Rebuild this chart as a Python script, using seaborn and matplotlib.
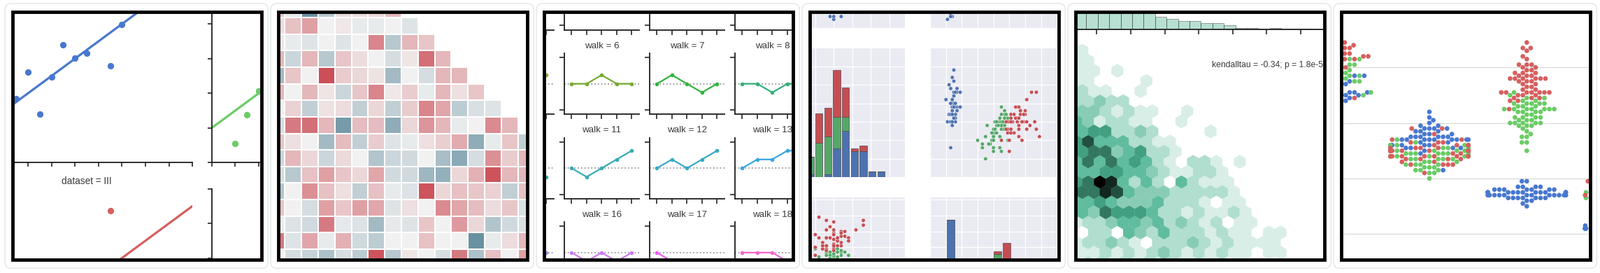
import colorsys
import warnings
import numpy as np
import pandas as pd
import matplotlib
matplotlib.use("Agg")
import matplotlib.pyplot as plt
import matplotlib.colors as mcolors
import matplotlib.transforms as mtransforms
from matplotlib.path import Path
from matplotlib.patches import PathPatch, Rectangle, FancyBboxPatch
import seaborn as sns

warnings.filterwarnings("ignore")

# ============================ DATA ============================
# --- panel 1: Anscombe's quartet ---
ans_x = [10, 8, 13, 9, 11, 14, 6, 4, 12, 7, 5]
ans_x4 = [8, 8, 8, 8, 8, 8, 8, 19, 8, 8, 8]
ans_y1 = [8.04, 6.95, 7.58, 8.81, 8.33, 9.96, 7.24, 4.26, 10.84, 4.82, 5.68]
ans_y2 = [9.14, 8.14, 8.74, 8.77, 9.26, 8.10, 6.13, 3.10, 9.13, 7.26, 4.74]
ans_y3 = [7.46, 6.77, 12.74, 7.11, 7.81, 8.84, 6.08, 5.39, 8.15, 6.42, 5.73]
ans_y4 = [6.58, 5.76, 7.71, 8.84, 8.47, 7.04, 5.25, 12.50, 5.56, 7.91, 6.89]
ans_names = ["I", "II", "III", "IV"]

# --- panel 2: visible crop of the lower-triangle correlation matrix ---
corr_rows = [
    [0.08, -0.02, -0.27, -0.12, 0.04, 0.04, 0.05, 0.11],
    [0.04, 0.09, 0.15, 0.0, 0.02, -0.02, -0.02, 0.0, -0.04],
    [0.02, -0.02, -0.04, 0.0, -0.04, 0.0, 0.2, -0.12, 0.11, 0.08],
    [0.11, -0.08, 0.11, -0.12, 0.08, 0.04, 0.0, -0.06, 0.025, 0.24, 0.11],
    [-0.16, 0.08, 0.0, 0.3, 0.07, 0.05, 0.03, -0.16, 0.0, -0.06, 0.11, 0.11],
    [0.11, 0.0, 0.11, 0.025, -0.08, 0.08, 0.2, 0.02, 0.07, -0.02, 0.11, 0.035, 0.08],
    [0.0, 0.06, -0.1, 0.03, 0.04, -0.1, 0.05, -0.1, 0.07, 0.2, 0.14, -0.11, -0.05, -0.04],
    [-0.06, 0.22, 0.24, 0.11, -0.25, 0.1, 0.1, -0.2, 0.05, 0.17, 0.11, -0.02, 0.0, 0.19, 0.11],
    [0.08, 0.035, 0.0, -0.16, 0.1, -0.1, 0.07, -0.04, -0.02, 0.035, 0.065, 0.13, -0.2, -0.02, 0.08, -0.1],
    [-0.08, 0.11, 0.05, -0.08, 0.045, 0.0, -0.13, -0.08, -0.07, 0.0, -0.15, -0.21, -0.06, 0.18, 0.07, 0.11],
    [-0.06, -0.12, 0.09, 0.15, 0.08, 0.05, 0.14, -0.07, -0.07, -0.17, -0.19, 0.05, 0.12, 0.29, 0.11, 0.11],
    [-0.13, 0.0, 0.18, 0.09, 0.035, -0.1, 0.09, -0.02, -0.045, 0.29, 0.05, 0.09, 0.08, 0.06, -0.1, 0.09],
    [0.08, 0.0, -0.06, 0.15, 0.08, 0.15, 0.14, -0.04, 0.035, 0.0, 0.19, 0.14, 0.1, 0.04, 0.08, -0.05],
    [-0.02, -0.045, -0.07, 0.22, -0.025, -0.045, -0.16, -0.025, -0.04, 0.08, 0.0, 0.16, 0.05, -0.13, -0.07, -0.055],
    [0.22, -0.04, 0.14, -0.02, 0.12, -0.07, -0.11, 0.0, 0.0, 0.09, 0.0, 0.0, -0.28, -0.02, 0.04, 0.11],
    [0.0, -0.06, -0.09, -0.14, -0.06, -0.11, 0.29, -0.12, 0.025, 0.0, -0.055, 0.22, -0.14, 0.09, 0.0, 0.15],
]

# --- panel 3: random walks (position per step) ---
walk_steps = [0, 1, 2, 3, 4]
walk_positions = [
    [0, 1, 1, 2, 1], [0, 0, 1, 1, 0], [0, 1, 1, 0, 1], [0, -1, 0, 0, 1], [0, 1, 0, 1, 1],
    [0, 1, 2, 1, 1], [0, 0, 1, 0, 0], [0, 1, 0, -1, 0], [0, 0, -1, 0, 0], [0, -1, -1, -2, -1],
    [0, 0, 1, 0, -1], [0, -1, 0, 1, 2], [0, 1, 0, 1, 2], [0, 1, 1, 2, 2], [0, 0, -1, -1, 0],
    [0, -1, -1, 0, 0], [0, -1, 0, -1, 0], [0, -1, -2, -2, -1], [0, 0, 0, -1, 0], [0, 1, 0, 0, -1],
]

# --- panels 4 & 6: iris ---
setosa_sl = [5.1,4.9,4.7,4.6,5.0,5.4,4.6,5.0,4.4,4.9,5.4,4.8,4.8,4.3,5.8,5.7,5.4,5.1,5.7,5.1,5.4,5.1,4.6,5.1,4.8,
             5.0,5.0,5.2,5.2,4.7,4.8,5.4,5.2,5.5,4.9,5.0,5.5,4.9,4.4,5.1,5.0,4.5,4.4,5.0,5.1,4.8,5.1,4.6,5.3,5.0]
setosa_sw = [3.5,3.0,3.2,3.1,3.6,3.9,3.4,3.4,2.9,3.1,3.7,3.4,3.0,3.0,4.0,4.4,3.9,3.5,3.8,3.8,3.4,3.7,3.6,3.3,3.4,
             3.0,3.4,3.5,3.4,3.2,3.1,3.4,4.1,4.2,3.1,3.2,3.5,3.6,3.0,3.4,3.5,2.3,3.2,3.5,3.8,3.0,3.8,3.2,3.7,3.3]
setosa_pl = [1.4,1.4,1.3,1.5,1.4,1.7,1.4,1.5,1.4,1.5,1.5,1.6,1.4,1.1,1.2,1.5,1.3,1.4,1.7,1.5,1.7,1.5,1.0,1.7,1.9,
             1.6,1.6,1.5,1.4,1.6,1.6,1.5,1.5,1.4,1.5,1.2,1.3,1.4,1.3,1.5,1.3,1.3,1.3,1.6,1.9,1.4,1.6,1.4,1.5,1.4]
setosa_pw = [0.2,0.2,0.2,0.2,0.2,0.4,0.3,0.2,0.2,0.1,0.2,0.2,0.1,0.1,0.2,0.4,0.4,0.3,0.3,0.3,0.2,0.4,0.2,0.5,0.2,
             0.2,0.4,0.2,0.2,0.2,0.2,0.4,0.1,0.2,0.2,0.2,0.2,0.1,0.2,0.2,0.3,0.3,0.2,0.6,0.4,0.3,0.2,0.2,0.2,0.2]
versicolor_sl = [7.0,6.4,6.9,5.5,6.5,5.7,6.3,4.9,6.6,5.2,5.0,5.9,6.0,6.1,5.6,6.7,5.6,5.8,6.2,5.6,5.9,6.1,6.3,6.1,6.4,
                 6.6,6.8,6.7,6.0,5.7,5.5,5.5,5.8,6.0,5.4,6.0,6.7,6.3,5.6,5.5,5.5,6.1,5.8,5.0,5.6,5.7,5.7,6.2,5.1,5.7]
versicolor_sw = [3.2,3.2,3.1,2.3,2.8,2.8,3.3,2.4,2.9,2.7,2.0,3.0,2.2,2.9,2.9,3.1,3.0,2.7,2.2,2.5,3.2,2.8,2.5,2.8,2.9,
                 3.0,2.8,3.0,2.9,2.6,2.4,2.4,2.7,2.7,3.0,3.4,3.1,2.3,3.0,2.5,2.6,3.0,2.6,2.3,2.7,3.0,2.9,2.9,2.5,2.8]
versicolor_pl = [4.7,4.5,4.9,4.0,4.6,4.5,4.7,3.3,4.6,3.9,3.5,4.2,4.0,4.7,3.6,4.4,4.5,4.1,4.5,3.9,4.8,4.0,4.9,4.7,4.3,
                 4.4,4.8,5.0,4.5,3.5,3.8,3.7,3.9,5.1,4.5,4.5,4.7,4.4,4.1,4.0,4.4,4.6,4.0,3.3,4.2,4.2,4.2,4.3,3.0,4.1]
versicolor_pw = [1.4,1.5,1.5,1.3,1.5,1.3,1.6,1.0,1.3,1.4,1.0,1.5,1.0,1.4,1.3,1.4,1.5,1.0,1.5,1.1,1.8,1.3,1.5,1.2,1.3,
                 1.4,1.4,1.7,1.5,1.0,1.1,1.0,1.2,1.6,1.5,1.6,1.5,1.3,1.3,1.3,1.2,1.4,1.2,1.0,1.3,1.2,1.3,1.3,1.1,1.3]
virginica_sl = [6.3,5.8,7.1,6.3,6.5,7.6,4.9,7.3,6.7,7.2,6.5,6.4,6.8,5.7,5.8,6.4,6.5,7.7,7.7,6.0,6.9,5.6,7.7,6.3,6.7,
                7.2,6.2,6.1,6.4,7.2,7.4,7.9,6.4,6.3,6.1,7.7,6.3,6.4,6.0,6.9,6.7,6.9,5.8,6.8,6.7,6.7,6.3,6.5,6.2,5.9]
virginica_sw = [3.3,2.7,3.0,2.9,3.0,3.0,2.5,2.9,2.5,3.6,3.2,2.7,3.0,2.5,2.8,3.2,3.0,3.8,2.6,2.2,3.2,2.8,2.8,2.7,3.3,
                3.2,2.8,3.0,2.8,3.0,2.8,3.8,2.8,2.8,2.6,3.0,3.4,3.1,3.0,3.1,3.1,3.1,2.7,3.2,3.3,3.0,2.5,3.0,3.4,3.0]
virginica_pl = [6.0,5.1,5.9,5.6,5.8,6.6,4.5,6.3,5.8,6.1,5.1,5.3,5.5,5.0,5.1,5.3,5.5,6.7,6.9,5.0,5.7,4.9,6.7,4.9,5.7,
                6.0,4.8,4.9,5.6,5.8,6.1,6.4,5.6,5.1,5.6,6.1,5.6,5.5,4.8,5.4,5.6,5.1,5.1,5.9,5.7,5.2,5.0,5.2,5.4,5.1]
virginica_pw = [2.5,1.9,2.1,1.8,2.2,2.1,1.7,1.8,1.8,2.5,2.0,1.9,2.1,2.0,2.4,2.3,1.8,2.2,2.3,1.5,2.3,2.0,2.0,1.8,2.1,
                1.8,1.8,1.8,2.1,1.6,1.9,2.0,2.2,1.5,1.4,2.3,2.4,1.8,1.8,2.1,2.4,2.3,1.9,2.3,2.5,2.3,1.9,2.0,2.3,1.8]
species_names = ["setosa", "versicolor", "virginica"]
measurements = ["sepal_length", "sepal_width", "petal_length", "petal_width"]

# --- panel 5: hexbin intensity levels (rows top->bottom) and marginal histogram ---
hex_levels = [
    [1],
    [1, 1],
    [1, 1, 0, 1],
    [1, 1, 0, 0, 0, 0, 1],
    [2, 1, 1, 0, 0, 1],
    [2, 2, 3, 2, 2],
    [3, 3, 2, 1, 2, 1, 1, 0, 0, 1],
    [4, 3, 1, 2, 2, 1, 1, 0, 0, 1],
    [4, 5, 5, 2, 2, 3, 2, 0, 0, 0, 0, 1],
    [5, 7, 4, 4, 4, 2, 2, 1, 1],
    [5, 6, 6, 3, 4, 5, 2, 2, 1],
    [4, 6, 4, 6, 4, 5, 4, 2, 1, 0, 2, 2, 1, 0, 1],
    [4, 4, 5, 5, 4, 4, 3, 2, 1, 1, 2, 2, 1],
    [5, 6, 9, 8, 4, 2, 4, 2, 0, 4, 2, 1, 1, 1],
    [6, 6, 8, 7, 4, 3, 3, 3, 2, 2, 2, 2, 2, 1],
    [4, 4, 5, 4, 3, 3, 3, 4, 2, 2, 2, 1, 0, 1, 1],
    [4, 3, 6, 5, 5, 5, 4, 2, 2, 1, 2, 1, 1, 2, 1],
    [1, 2, 2, 3, 4, 4, 3, 4, 2, 3, 2, 1, 2, 0, 1, 1],
    [0, 2, 2, 0, 4, 3, 2, 4, 2, 2, 2, 1, 2, 1, 1, 0, 1, 1],
    [1, 2, 2, 3, 2, 1, 0, 2, 2, 2, 3, 2, 1, 2, 1, 1, 1, 1],
    [1, 1, 2, 1, 2, 1, 2, 3, 2, 1, 2, 1, 2, 1, 1, 0, 1, 1],
    [1, 2, 2, 1, 2, 1, 2, 1, 2, 1, 1, 1, 1, 0, 1],
]
marg_counts = [150, 180, 185, 175, 160, 61, 54, 33, 26, 22, 22, 16, 16, 10, 4, 4, 1, 2.5, 1, 0.5, 0.5]
kendall_label = "kendalltau = -0.34; p = 1.8e-58"

# ============================ LAYOUT HELPERS ============================
W, H = 2288, 390
PITCH = 380
sns.set_theme(style="ticks")
plt.rcParams["font.family"] = ["Liberation Sans", "DejaVu Sans"]

fig = plt.figure(figsize=(W / 100, H / 100), dpi=100, facecolor="white")
pxT = mtransforms.Affine2D().scale(1.0 / W, -1.0 / H).translate(0, 1) + fig.transFigure


def add_ax(panel, l, t, r, b):
    off = PITCH * panel
    return fig.add_axes([(l + off) / W, 1 - b / H, (r - l) / W, (b - t) / H])


SPINE = "#262626"
TXT = "#3a3a3a"


def tick_style(ax, length=4.6):
    for s in ("top", "right"):
        ax.spines[s].set_visible(False)
    for s in ("left", "bottom"):
        ax.spines[s].set_color(SPINE)
        ax.spines[s].set_linewidth(1.35)
    ax.tick_params(direction="out", length=length, width=1.2, color=SPINE,
                   labelbottom=False, labelleft=False)
    ax.set_xlabel("")
    ax.set_ylabel("")


MUTED = ["#4878CF", "#6ACC65", "#D65F5F", "#B47CC7"]
DEEP = ["#4C72B0", "#55A868", "#C44E52"]

# ============================ PANEL 1: lmplot (Anscombe) ============================
ans_sets = [(ans_x, ans_y1), (ans_x, ans_y2), (ans_x, ans_y3), (ans_x4, ans_y4)]
ans_rects = [(-27.2, -64.7, 275.3, 232.3), (302.7, -64.7, 392, 232.3),
             (-27.2, 269.5, 275.3, 566.5), (302.7, 269.5, 392, 566.5)]
px_per_x = (275.3 + 27.2) / 18.0
for k, ((xs, ys), rc) in enumerate(zip(ans_sets, ans_rects)):
    ax = add_ax(0, *rc)
    xr = 2 + (rc[2] - rc[0]) / px_per_x
    ax.set_xlim(2, xr)
    ax.set_ylim(2, 14)
    sns.regplot(x=np.array(xs, float), y=np.array(ys, float), ax=ax, ci=None, truncate=False,
                color=MUTED[k], scatter_kws=dict(s=44, linewidths=0, alpha=1),
                line_kws=dict(lw=2.3))
    ax.set_xticks(np.arange(2, 21, 2))
    ax.set_yticks(np.arange(2, 15, 2))
    ax.set_xlim(2, xr)
    ax.set_ylim(2, 14)
    tick_style(ax)
    if k == 2:
        ax.set_title(f"dataset = {ans_names[k]}", fontsize=9.8, color=TXT, pad=4.9)

# ============================ PANEL 2: heatmap ============================
n = 16
vals = np.full((n, n), np.nan)
for r, row in enumerate(corr_rows):
    vals[r, :len(row)] = row
ax = add_ax(1, 3.6, 1.3, 384.5, 379.7)
cmap_div = sns.blend_palette(["#5f8a9c", "#f2f2f2", "#cc4f58"], as_cmap=True)
sns.heatmap(vals, mask=np.isnan(vals), cmap=cmap_div, vmin=-.3, vmax=.3, center=0,
            linewidths=1.4, linecolor="white", cbar=False,
            xticklabels=False, yticklabels=False, ax=ax)

# ============================ PANEL 3: facet grid of walks ============================
husl = sns.color_palette("husl", 20)
colw, rowh = 107.3, 87.3
for w in range(20):
    r, c = divmod(w, 5)
    if c == 4:
        continue
    left = 46.7 + (c - 1) * 122.0
    right = left + colw
    bottom = 42.7 + r * 120.6
    top = bottom - rowh
    xl = -0.5
    trimmed = left < 0
    if trimmed:
        xl = 4.5 - right / (colw / 5.0)
        left = 0.0
    ax = add_ax(2, left, top, right, bottom)
    ax.axhline(0, ls=":", color=".6", lw=1.3)
    sns.lineplot(x=walk_steps, y=walk_positions[w], ax=ax, color=husl[w], marker="o",
                 markersize=4.0, markeredgewidth=0, lw=1.6)
    ax.set_xticks(range(5))
    ax.set_yticks([-3, 3])
    ax.set_xlim(xl, 4.5)
    ax.set_ylim(-3.5, 3.5)
    tick_style(ax, length=4.8)
    if not trimmed and r > 0:
        ax.set_title(f"walk = {w}", fontsize=9.6, color=TXT, pad=5.3)

# ============================ PANEL 4: pairplot (iris) ============================
iris = pd.DataFrame({
    "sepal_length": setosa_sl + versicolor_sl + virginica_sl,
    "sepal_width": setosa_sw + versicolor_sw + virginica_sw,
    "petal_length": setosa_pl + versicolor_pl + virginica_pl,
    "petal_width": setosa_pw + versicolor_pw + virginica_pw,
    "species": ["setosa"] * 50 + ["versicolor"] * 50 + ["virginica"] * 50,
})

sw_right = 5.0 - 3.7 / 52.86
pp_cols = {"A": ("sepal_width", 0.0, 154.3, (sw_right - 154.3 / 52.86, sw_right), np.arange(2.0, 5.01, 0.5)),
           "B": ("petal_length", 190.0, 375.0, (0.0, 185 / 22.67), np.arange(0, 9, 1))}
pp_rows = {"a": ("sepal_length", -145.0, 40.0, (4.0, 8.5), np.arange(4.0, 8.51, 0.5)),
           "b": ("sepal_width", 68.3, 253.3, (1.5, 5.0), np.arange(1.5, 5.01, 0.5)),
           "c": ("petal_length", 281.7, 466.7, (0.0, 185 / 22.67), np.arange(0, 9, 1))}

for rk, (yv, t, b, ylim, yt) in pp_rows.items():
    for ck, (xv, l, rr, xlim, xt) in pp_cols.items():
        ax = add_ax(3, l, t, rr, b)
        ax.set_facecolor("#EAEAF2")
        for s in ax.spines.values():
            s.set_visible(False)
        if xv != yv:
            sns.scatterplot(data=iris, x=xv, y=yv, hue="species", palette=DEEP, s=15,
                            linewidth=0.3, edgecolor="white", legend=False, ax=ax)
        ax.set_xticks(xt)
        ax.set_yticks(yt)
        ax.set_xlim(*xlim)
        ax.set_ylim(*ylim)
        ax.grid(True, color="white", lw=0.9)
        ax.set_axisbelow(True)
        ax.tick_params(length=0, labelbottom=False, labelleft=False)
        ax.set_xlabel("")
        ax.set_ylabel("")
        if xv == yv:
            ax2 = add_ax(3, l, t, rr, b)
            groups = [iris.loc[iris.species == sp, xv].values for sp in species_names]
            _, _, patches = ax2.hist(groups, bins=10, histtype="barstacked", rwidth=0.8,
                                     color=DEEP, edgecolor=".3", linewidth=0.5)
            top_count = max(p.get_y() + p.get_height() for bc in patches for p in bc)
            ax2.set_xlim(*xlim)
            ax2.set_ylim(0, top_count * 1.21)
            ax2.set_axis_off()

# ============================ PANEL 5: jointplot hex ============================
GREEN = "#4CB391"
hh, ll, ss = colorsys.rgb_to_hls(*mcolors.to_rgb(GREEN))
hex_cmap = sns.blend_palette([colorsys.hls_to_rgb(hh, li, ss) for li in np.linspace(1, 0, 12)],
                             as_cmap=True)
PXU = 48.6               # pixels per data unit
X0 = -0.3                # local pixel of x = 0
sx = 16.67 / PXU
sy = sx * np.sqrt(3)
hex_x0 = (19.4 - X0) / PXU
k_top = -13
k_bot = k_top + len(hex_levels) - 1
hx, hy, hc = [], [], []
for idx, row in enumerate(hex_levels):
    kk = k_top + idx
    shift = 0.5 if kk % 2 else 0.0
    for j, lev in enumerate(row):
        if lev <= 0:
            continue
        hx.append(hex_x0 + (j + shift) * sx)
        hy.append(-kk * sy / 2)
        hc.append(lev)
nx_hex, ny_hex = 21, 11
ymin_hex = -k_bot * sy / 2
xlim5 = ((-1 - X0) / PXU, (395 - X0) / PXU)

axj = add_ax(4, -1, 63, 395, 420)
axj.hexbin(hx, hy, C=hc, gridsize=(nx_hex, ny_hex),
           extent=(hex_x0, hex_x0 + nx_hex * sx, ymin_hex, ymin_hex + ny_hex * sy),
           reduce_C_function=np.sum, cmap=hex_cmap, vmin=0, vmax=9,
           linewidths=0.25, edgecolors="face")
axj.set_xticks([])
axj.set_yticks([])
axj.set_xlim(*xlim5)
axj.set_ylim((260 - 420) / PXU, (260 - 63) / PXU)
for s in axj.spines.values():
    s.set_visible(False)

axm = add_ax(4, -1, -40, 395, 41.7)
marg_x0 = (16.9 - X0) / PXU
marg_bw = 16.4 / PXU
axm.bar([marg_x0 + i * marg_bw for i in range(len(marg_counts))], marg_counts, width=marg_bw,
        align="edge", color=GREEN, alpha=0.4, edgecolor="black", linewidth=0.6)
axm.set_xticks(range(0, 9))
axm.set_yticks([])
axm.set_xlim(*xlim5)
axm.set_ylim(0, 101.7 / 0.68)
for s in ("top", "right", "left"):
    axm.spines[s].set_visible(False)
axm.spines["bottom"].set_color(SPINE)
axm.spines["bottom"].set_linewidth(1.35)
axm.tick_params(axis="x", direction="out", length=5, width=1.2, color=SPINE, labelbottom=False)
fig.text(4 * PITCH + 213.3, 92.7, kendall_label, transform=pxT, fontsize=8.7, color=TXT,
         ha="left", va="center")

# ============================ PANEL 6: swarmplot ============================
iris_long = iris.melt(id_vars="species", var_name="measurement", value_name="value")
ax = add_ax(5, -5, 15, 492, 375)
sns.swarmplot(data=iris_long, x="measurement", y="value", hue="species", order=measurements,
              hue_order=species_names, palette=MUTED[:3], size=4.8, linewidth=0,
              legend=False, ax=ax)
ax.set_yticks([0, 2, 4, 6, 8])
ax.set_xlim((-5 - 4.7) / 139.3, (492 - 4.7) / 139.3)
ax.set_ylim((334.3 - 375) / 39.66, (334.3 - 15) / 39.66)
ax.yaxis.grid(True, color="#d9d9d9", lw=0.9)
ax.xaxis.grid(False)
ax.set_axisbelow(True)
for s in ax.spines.values():
    s.set_visible(False)
ax.tick_params(length=0, labelbottom=False, labelleft=False)
ax.set_xlabel("")
ax.set_ylabel("")

# ============================ FRAMES / MASK / CARDS ============================
def rect_verts(l, t, r, b, ccw):
    if ccw:
        return [(l, t), (l, b), (r, b), (r, t), (l, t)]
    return [(l, t), (r, t), (r, b), (l, b), (l, t)]


verts, codes = [], []
for vv in [rect_verts(-20, -20, W + 20, H + 20, False)] + \
        [rect_verts(20 + PITCH * i, 19.5, 371.5 + PITCH * i, 368.5, True) for i in range(6)]:
    verts += vv
    codes += [Path.MOVETO, Path.LINETO, Path.LINETO, Path.LINETO, Path.CLOSEPOLY]
fig.add_artist(PathPatch(Path(verts, codes), transform=pxT, facecolor="white",
                         edgecolor="none", zorder=50))

for i in range(6):
    off = PITCH * i
    fig.add_artist(FancyBboxPatch((7 + off, 5), 376.3, 378.3,
                                  boxstyle="round,pad=0,rounding_size=9", transform=pxT,
                                  fill=False, edgecolor="#e3e8e8", linewidth=1.1, zorder=59))
    fig.add_artist(Rectangle((17.9 + off, 17.4), 355.7, 353.2, transform=pxT, fill=False,
                             edgecolor="black", linewidth=3.46, zorder=60))

fig.savefig("out.png", dpi=100, facecolor="white")
